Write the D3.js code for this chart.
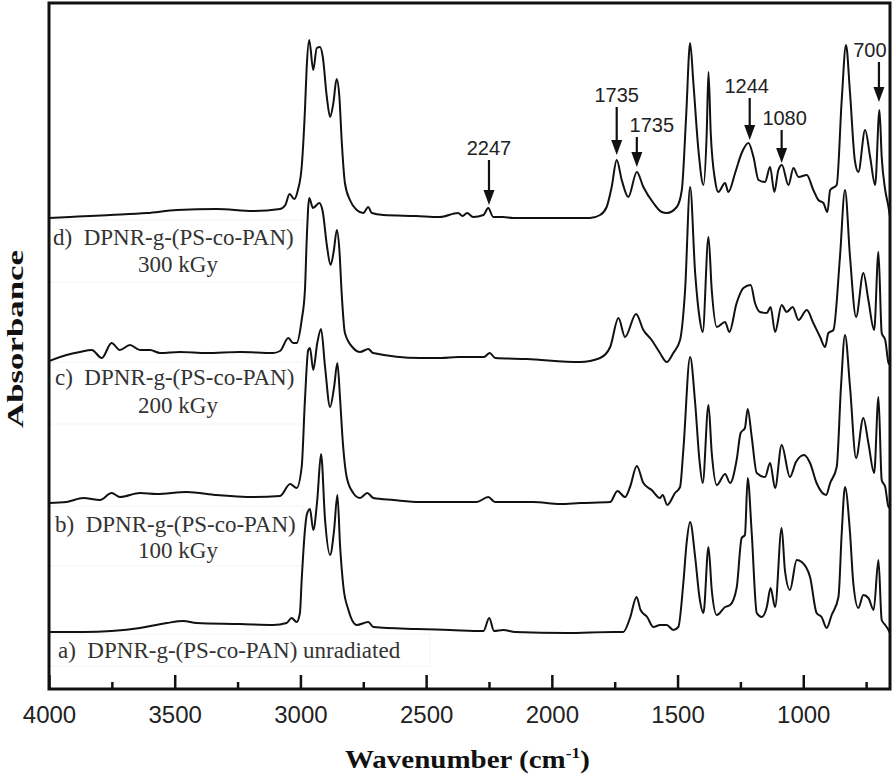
<!DOCTYPE html>
<html>
<head>
<meta charset="utf-8">
<script src="https://cdn.jsdelivr.net/npm/d3@7/dist/d3.min.js"></script>
<style>
  body { margin: 0; background: #fff; }
  svg { display: block; }
</style>
</head>
<body>
<div id="chart"></div>
<script>
// FTIR spectra, stacked (absorbance a.u., offset per sample); [wavenumber, absorbance]
const specA = [
  [4000,0.57],[3864,0.57],[3751,0.58],[3638,0.61],[3532,0.66],[3466,0.68],[3413,0.66],[3240,0.65],
  [3108,0.64],[3055,0.66],[3035,0.71],[3015,0.67],[3002,0.76],[2995,1.09],[2982,1.59],[2975,1.74],
  [2962,1.80],[2949,1.59],[2933,1.89],[2918,2.35],[2902,1.69],[2882,1.34],[2866,1.59],[2853,1.94],
  [2842,1.42],[2829,1.02],[2809,0.79],[2776,0.64],[2730,0.67],[2710,0.62],[2537,0.60],[2405,0.59],
  [2272,0.58],[2249,0.71],[2230,0.58],[2193,0.59],[2146,0.57],[1941,0.56],[1755,0.57],[1716,0.57],
  [1689,0.71],[1663,0.92],[1647,0.79],[1621,0.72],[1596,0.62],[1570,0.64],[1543,0.64],[1517,0.59],
  [1497,0.62],[1477,1.06],[1464,1.46],[1450,1.67],[1430,1.32],[1413,0.92],[1397,0.76],[1377,1.42],
  [1364,0.99],[1344,0.74],[1311,0.82],[1291,0.84],[1265,1.01],[1245,1.51],[1232,1.54],[1221,2.11],
  [1205,1.56],[1185,0.76],[1165,0.72],[1145,0.82],[1130,1.01],[1112,0.82],[1086,1.61],[1073,1.19],
  [1053,0.99],[1026,1.29],[1006,1.27],[973,1.12],[947,0.76],[927,0.72],[907,0.61],[887,0.74],
  [860,0.92],[847,1.56],[834,2.02],[814,1.56],[801,1.06],[781,0.81],[761,0.94],[741,0.91],
  [720,0.79],[701,1.29],[688,0.69],[674,0.64],[661,0.59],[655,0.56]
];

const specB = [
  [4000,1.86],[3930,1.87],[3864,1.91],[3797,1.89],[3751,1.96],[3718,1.92],[3638,1.96],[3572,1.95],
  [3452,1.97],[3333,1.94],[3214,1.92],[3081,1.93],[3041,2.05],[3015,2.01],[2995,2.22],[2982,2.89],
  [2969,3.39],[2962,3.41],[2949,3.19],[2933,3.46],[2918,3.60],[2902,3.22],[2882,2.82],[2866,3.02],
  [2853,3.26],[2842,2.89],[2832,2.49],[2816,2.12],[2790,1.96],[2763,1.91],[2734,1.96],[2710,1.91],
  [2630,1.89],[2524,1.87],[2299,1.87],[2253,1.92],[2226,1.87],[2074,1.87],[1967,1.85],[1888,1.86],
  [1768,1.87],[1739,1.98],[1709,1.92],[1689,2.02],[1662,2.23],[1636,2.06],[1603,1.99],[1570,1.91],
  [1559,1.94],[1541,1.84],[1510,1.96],[1490,2.02],[1477,2.39],[1450,3.32],[1430,2.86],[1413,2.29],
  [1400,2.06],[1377,2.84],[1364,2.36],[1344,2.04],[1311,2.15],[1291,2.06],[1265,2.29],[1249,2.56],
  [1232,2.61],[1221,2.80],[1205,2.52],[1185,2.16],[1152,2.12],[1132,2.26],[1112,2.01],[1086,2.44],
  [1053,2.12],[1029,2.27],[997,2.34],[973,2.26],[947,2.06],[909,1.94],[893,2.06],[867,2.22],
  [850,3.02],[834,3.54],[814,3.02],[790,2.31],[761,2.71],[741,2.46],[718,2.16],[701,2.92],
  [688,2.09],[674,2.02],[661,1.82],[655,1.81]
];

const specC = [
  [4000,3.28],[3930,3.34],[3877,3.37],[3830,3.39],[3790,3.31],[3751,3.46],[3718,3.39],[3678,3.44],
  [3638,3.39],[3598,3.39],[3558,3.36],[3479,3.37],[3373,3.36],[3240,3.37],[3109,3.36],[3081,3.38],
  [3048,3.51],[3029,3.46],[3015,3.46],[2995,3.69],[2982,3.99],[2975,4.49],[2965,4.91],[2950,4.81],
  [2925,4.86],[2911,4.77],[2895,4.44],[2880,4.24],[2868,4.37],[2855,4.59],[2845,4.39],[2836,3.96],
  [2823,3.56],[2790,3.41],[2763,3.37],[2730,3.40],[2711,3.36],[2524,3.31],[2440,3.31],[2373,3.32],
  [2270,3.32],[2247,3.36],[2225,3.31],[2100,3.30],[1888,3.27],[1808,3.31],[1768,3.42],[1735,3.71],
  [1709,3.52],[1665,3.75],[1636,3.59],[1603,3.49],[1570,3.36],[1543,3.27],[1517,3.36],[1490,3.49],
  [1470,3.99],[1450,5.02],[1430,4.16],[1413,3.72],[1400,3.57],[1377,4.52],[1364,3.99],[1344,3.62],
  [1311,3.67],[1294,3.57],[1265,3.86],[1238,4.01],[1209,4.04],[1192,3.86],[1172,3.77],[1145,3.76],
  [1130,3.82],[1112,3.57],[1086,3.84],[1066,3.77],[1042,3.82],[1019,3.69],[986,3.79],[960,3.66],
  [933,3.52],[913,3.42],[900,3.56],[880,3.59],[854,4.32],[834,4.99],[814,4.32],[790,3.72],
  [761,4.16],[741,3.89],[718,3.59],[701,4.37],[688,3.56],[674,3.49],[661,3.26],[655,3.24]
];

const specD = [
  [4000,4.71],[3916,4.72],[3837,4.73],[3757,4.74],[3610,4.76],[3491,4.79],[3332,4.80],[3189,4.78],
  [3081,4.80],[3060,4.84],[3043,4.95],[3025,4.90],[3010,4.99],[2995,5.22],[2982,5.79],[2975,6.22],
  [2965,6.49],[2949,6.19],[2935,6.41],[2922,6.42],[2911,6.32],[2895,5.92],[2882,5.72],[2869,5.86],
  [2856,6.10],[2845,5.92],[2836,5.49],[2823,5.06],[2803,4.89],[2776,4.79],[2750,4.76],[2730,4.82],
  [2716,4.76],[2670,4.74],[2540,4.73],[2445,4.72],[2373,4.76],[2355,4.73],[2337,4.76],[2313,4.72],
  [2272,4.74],[2253,4.81],[2233,4.72],[2194,4.72],[2154,4.71],[1848,4.71],[1808,4.74],[1782,4.82],
  [1762,5.02],[1742,5.29],[1722,5.09],[1696,4.92],[1662,5.17],[1636,5.02],[1596,4.86],[1563,4.77],
  [1543,4.76],[1503,4.82],[1483,4.99],[1466,5.72],[1450,6.46],[1437,6.06],[1417,5.39],[1397,5.04],
  [1384,5.56],[1377,6.17],[1368,5.56],[1351,5.09],[1338,4.97],[1311,5.06],[1298,4.97],[1271,5.16],
  [1245,5.36],[1218,5.46],[1198,5.32],[1178,5.09],[1152,5.07],[1132,5.22],[1115,4.97],[1099,5.19],
  [1085,5.24],[1059,5.04],[1039,5.21],[1019,5.12],[986,5.14],[960,4.99],[940,4.89],[920,4.86],
  [904,4.77],[893,4.99],[867,5.04],[847,5.89],[830,6.44],[814,5.96],[795,5.29],[781,5.17],
  [754,5.59],[734,5.32],[714,5.04],[697,5.79],[688,5.32],[674,4.99],[661,4.82],[655,4.72]
];

const seriesNames = ['a', 'b', 'c', 'd'];
const seriesData = [specA, specB, specC, specD];
const sampleLabels = [
  ['a)  DPNR-g-(PS-co-PAN) unradiated'],
  ['b)  DPNR-g-(PS-co-PAN)', '100 kGy'],
  ['c)  DPNR-g-(PS-co-PAN)', '200 kGy'],
  ['d)  DPNR-g-(PS-co-PAN)', '300 kGy']
];

// peak markers: wavenumber, arrow top / tip (absorbance), label
const peakLabels = ['2247', '1735', '1735', '1244', '1080', '700'];
const peakAt     = [2250, 1742, 1662, 1213, 1086, 699];
const arrowTop   = [5.29, 5.82, 5.52, 5.91, 5.59, 6.27];
const arrowTip   = [4.84, 5.34, 5.22, 5.49, 5.26, 5.87];

const majorTicks = [4000, 3500, 3000, 2500, 2000, 1500, 1000];
const minorTicks = [3750, 3250, 2750, 2250, 1750, 1250, 750];

const W = 896, H = 781;
const plot = { left: 49, top: 3, right: 890, bottom: 689 };

const x = d3.scaleLinear().domain([4000, 655]).range([plot.left, plot.right]);
const y = d3.scaleLinear().domain([0, 6.86]).range([plot.bottom, plot.top]);

const svg = d3.select('#chart').append('svg')
  .attr('width', W)
  .attr('height', H);

svg.append('defs').append('clipPath').attr('id', 'clip')
  .append('rect')
  .attr('x', plot.left).attr('y', plot.top)
  .attr('width', plot.right - plot.left).attr('height', plot.bottom - plot.top);

// faint boxes behind the sample labels (pasted-in text boxes in the original)
const boxG = svg.append('g').attr('fill', 'none').attr('stroke', '#f4f4f4').attr('stroke-width', 1);
[[49, 634, 430, 666], [49, 506, 303, 566], [49, 362, 303, 424], [49, 220, 303, 282]].forEach(b => {
  boxG.append('rect').attr('x', b[0]).attr('y', b[1]).attr('width', b[2] - b[0]).attr('height', b[3] - b[1]);
});

// spectra
const line = d3.line()
  .x(d => x(d[0]))
  .y(d => y(d[1]))
  .curve(d3.curveMonotoneX);

svg.append('g').attr('clip-path', 'url(#clip)')
  .selectAll('path')
  .data(seriesData)
  .enter().append('path')
  .attr('class', (d, i) => 'spec-' + seriesNames[i])
  .attr('d', line)
  .attr('fill', 'none')
  .attr('stroke', '#111')
  .attr('stroke-width', 2)
  .attr('stroke-linejoin', 'round');

// sample labels
const labelPos = [
  { x: 58, y: 658 },
  { x: 55, y: 532, y2: 558 },
  { x: 55, y: 385, y2: 413 },
  { x: 53, y: 245, y2: 272 }
];
const labG = svg.append('g')
  .attr('font-family', '"Liberation Serif", "Times New Roman", serif')
  .attr('font-size', 23)
  .attr('fill', '#333');
sampleLabels.forEach((lines, i) => {
  const p = labelPos[i];
  labG.append('text').attr('x', p.x).attr('y', p.y)
    .style('white-space', 'pre').text(lines[0]);
  if (lines[1]) {
    labG.append('text').attr('x', 178).attr('y', p.y2)
      .attr('text-anchor', 'middle').text(lines[1]);
  }
});

// peak arrows
const arrG = svg.append('g');
const headLen = 15, headHalf = 5.5;
const labelDx = [0, 0, 15, -3, 3, -9];
peakAt.forEach((wn, i) => {
  const px = x(wn), yTop = y(arrowTop[i]), yTip = y(arrowTip[i]);
  arrG.append('line')
    .attr('x1', px).attr('x2', px)
    .attr('y1', yTop).attr('y2', yTip - headLen + 2)
    .attr('stroke', '#111').attr('stroke-width', 2.2);
  arrG.append('path')
    .attr('d', `M${px},${yTip} L${px - headHalf},${yTip - headLen} L${px + headHalf},${yTip - headLen} Z`)
    .attr('fill', '#111');
  arrG.append('text')
    .attr('x', px + labelDx[i]).attr('y', yTop - 5)
    .attr('text-anchor', 'middle')
    .attr('font-family', '"Liberation Sans", Arial, sans-serif')
    .attr('font-size', 20)
    .attr('fill', '#222')
    .text(peakLabels[i]);
});

// x axis: inward ticks
const axisMajor = d3.axisBottom(x)
  .tickValues(majorTicks)
  .tickSizeInner(-14).tickSizeOuter(0)
  .tickPadding(17)
  .tickFormat(d3.format('d'));
const gx = svg.append('g')
  .attr('transform', `translate(0,${plot.bottom})`)
  .call(axisMajor);
gx.select('.domain').remove();
gx.selectAll('.tick line').attr('stroke', '#111').attr('stroke-width', 2.5);
gx.selectAll('.tick text')
  .attr('font-family', '"Liberation Sans", Arial, sans-serif')
  .attr('font-size', 24)
  .attr('fill', '#222');

const gxm = svg.append('g')
  .attr('transform', `translate(0,${plot.bottom})`)
  .call(d3.axisBottom(x).tickValues(minorTicks).tickSizeInner(-7).tickSizeOuter(0).tickFormat(''));
gxm.select('.domain').remove();
gxm.selectAll('.tick line').attr('stroke', '#111').attr('stroke-width', 2.5);

// frame
svg.append('rect')
  .attr('x', plot.left).attr('y', plot.top)
  .attr('width', plot.right - plot.left).attr('height', plot.bottom - plot.top)
  .attr('fill', 'none').attr('stroke', '#111').attr('stroke-width', 3);

// axis titles
const xt = svg.append('text')
  .attr('font-family', '"Liberation Serif", "Times New Roman", serif')
  .attr('font-weight', 'bold')
  .attr('font-size', 25)
  .attr('fill', '#111');
xt.append('tspan').text('Wavenumber (cm');
xt.append('tspan').attr('font-size', 15).attr('dy', -10).text('-1');
xt.append('tspan').attr('dy', 10).text(')');
const xw = xt.node().getComputedTextLength();
xt.attr('transform', `translate(345,768) scale(${245 / xw},1)`);

const yt = svg.append('text')
  .attr('font-family', '"Liberation Serif", "Times New Roman", serif')
  .attr('font-weight', 'bold')
  .attr('font-size', 23)
  .attr('fill', '#111')
  .attr('text-anchor', 'middle')
  .text('Absorbance');
const yw = yt.node().getComputedTextLength();
yt.attr('transform', `translate(23,339) rotate(-90) scale(${178 / yw},1)`);
</script>
</body>
</html>
